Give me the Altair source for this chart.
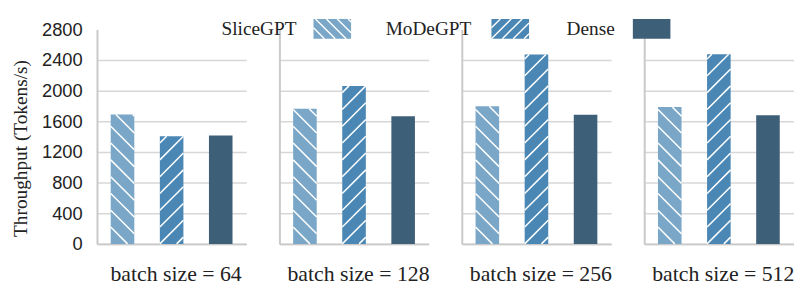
import math
import altair as alt
import pandas as pd

# ---- data ----
batch_sizes = [64, 128, 256, 512]
models = ["SliceGPT", "MoDeGPT", "Dense"]
slicegpt = [1688, 1765, 1796, 1787]
modegpt = [1404, 2062, 2471, 2475]
dense = [1413, 1667, 1684, 1680]
y_ticks = [0, 400, 800, 1200, 1600, 2000, 2400, 2800]
y_title = "Throughput (Tokens/s)"
panel_title = "batch size = {}"

# ---- styles / layout ----
colors = ["#7aa7c7", "#4a87b5", "#3e5f78"]
hatch_dirs = ["\\", "/", None]
W, H = 151, 217
SPACING = 33.5
Y_MAX = 2800
PAD_IN, PAD_OUT = 0.52, 0.28
HATCH_STEP = 17.0
LEG_HATCH_STEP = 11.0
SERIF = "Liberation Serif"
SANS = "Liberation Sans"
TEXT = "#222222"
GRID = "#d7d7d7"
DOMAIN = "#c9c9c9"
# legend layout, measured from the first panel's left edge; drawn in the last panel
LEG_LABEL_X = [126, 292, 475]
LEG_SWATCH_X = [219, 399, 542]
LEG_SW_W, LEG_SW_H = 38, 20
LEG_TOP = -10.5
LEG_PANEL = len(batch_sizes) - 1
LEG_SHIFT = LEG_PANEL * (W + SPACING)

series = {"SliceGPT": slicegpt, "MoDeGPT": modegpt, "Dense": dense}
step = W / (len(models) - PAD_IN + 2 * PAD_OUT)
bw = step * (1 - PAD_IN)
py = H / Y_MAX


def segments(w, h, s, d):
    """45-degree hatch segments clipped to a w x h box (y up)."""
    out = []
    if d == "/":
        k = math.ceil(-w / s)
        while k * s < h:
            c = k * s
            xs, xe = max(0.0, -c), min(w, h - c)
            if xe - xs > 0.3:
                out.append((xs, xs + c, xe, xe + c))
            k += 1
    elif d == "\\":
        k = 1
        while k * s < w + h:
            c = k * s
            xs, xe = max(0.0, c - h), min(w, c)
            if xe - xs > 0.3:
                out.append((xs, c - xs, xe, c - xe))
            k += 1
    return out


color_scale = alt.Scale(domain=models, range=colors)
y_scale = alt.Scale(domain=[0, Y_MAX], nice=False)


def legend_layers():
    lx = [x - LEG_SHIFT for x in LEG_LABEL_X]
    sx = [x - LEG_SHIFT for x in LEG_SWATCH_X]
    lab = pd.DataFrame({"model": models, "lx": lx,
                        "ly": [LEG_TOP + LEG_SW_H / 2] * 3})
    sw = pd.DataFrame({"model": models, "sx": sx,
                       "sx2": [x + LEG_SW_W for x in sx],
                       "sy": [LEG_TOP] * 3, "sy2": [LEG_TOP + LEG_SW_H] * 3})
    rows = []
    for m, x0, d in zip(models, sx, hatch_dirs):
        for (a, b, c, e) in segments(LEG_SW_W, LEG_SW_H, LEG_HATCH_STEP, d):
            bottom = LEG_TOP + LEG_SW_H
            rows.append({"hx": x0 + a, "hy": bottom - b, "hx2": x0 + c, "hy2": bottom - e})
    hd = pd.DataFrame(rows)
    texts = alt.Chart(lab).mark_text(align="left", baseline="middle", font=SERIF,
                                     fontSize=19.5, color=TEXT).encode(
        x=alt.X("lx:Q", scale=None), y=alt.Y("ly:Q", scale=None), text="model:N")
    rects = alt.Chart(sw).mark_rect().encode(
        x=alt.X("sx:Q", scale=None), x2="sx2:Q",
        y=alt.Y("sy:Q", scale=None), y2="sy2:Q",
        color=alt.Color("model:N", scale=color_scale, legend=None))
    lines = alt.Chart(hd).mark_rule(color="white", strokeWidth=1.4).encode(
        x=alt.X("hx:Q", scale=None), x2="hx2:Q",
        y=alt.Y("hy:Q", scale=None), y2="hy2:Q")
    return [texts, rects, lines]


def panel(j):
    vals = [series[m][j] for m in models]
    bars_df = pd.DataFrame({"model": models, "value": vals})
    rows = []
    for i, (v, d) in enumerate(zip(vals, hatch_dirs)):
        x0 = (PAD_OUT + i) * step
        for (a, b, c, e) in segments(bw, v * py, HATCH_STEP, d):
            rows.append({"hx": x0 + a, "hy": b / py, "hx2": x0 + c, "hy2": e / py})
    hatch_df = pd.DataFrame(rows)
    first = j == 0
    common = dict(ticks=False, tickSize=0, domainColor=DOMAIN, domainWidth=2,
                  gridColor=GRID, gridWidth=1.5,
                  gridOpacity=alt.condition("datum.value >= 2800", alt.value(0), alt.value(1)))
    if first:
        y_axis = alt.Axis(values=y_ticks, format="d", title=y_title, labelFont=SANS,
                          labelFontSize=18.5, labelColor=TEXT, labelPadding=15,
                          titleFont=SERIF, titleFontSize=19.5, titleFontWeight="normal",
                          titleColor=TEXT, titlePadding=11, titleY=120, **common)
    else:
        y_axis = alt.Axis(values=y_ticks, labels=False, title=None, **common)
    x_axis = alt.Axis(labels=False, ticks=False, grid=False, domainColor=DOMAIN,
                      domainWidth=2, title=panel_title.format(batch_sizes[j]),
                      titleFont=SERIF, titleFontSize=22, titleFontWeight="normal",
                      titleColor=TEXT, titlePadding=20, titleX=W / 2 + 4)
    bars = alt.Chart(bars_df).mark_bar().encode(
        x=alt.X("model:N", sort=models,
                scale=alt.Scale(paddingInner=PAD_IN, paddingOuter=PAD_OUT), axis=x_axis),
        y=alt.Y("value:Q", scale=y_scale, axis=y_axis),
        color=alt.Color("model:N", scale=color_scale, legend=None),
    )
    hatch = alt.Chart(hatch_df).mark_rule(color="white", strokeWidth=1.5).encode(
        x=alt.X("hx:Q", scale=alt.Scale(domain=[0, W], nice=False, zero=False), axis=None),
        x2="hx2:Q",
        y=alt.Y("hy:Q", scale=y_scale, axis=y_axis),
        y2="hy2:Q",
    )
    layers = [bars, hatch]
    if j == LEG_PANEL:
        layers += legend_layers()
    return alt.layer(*layers).resolve_scale(x="independent").properties(width=W, height=H)


chart = alt.hconcat(*[panel(j) for j in range(len(batch_sizes))], spacing=SPACING,
                    bounds="flush").configure_view(
    stroke=None).properties(padding={"left": 2, "top": 8, "right": 0, "bottom": 0})

chart.save("out.html", embed_options={"renderer": "svg", "actions": False})
